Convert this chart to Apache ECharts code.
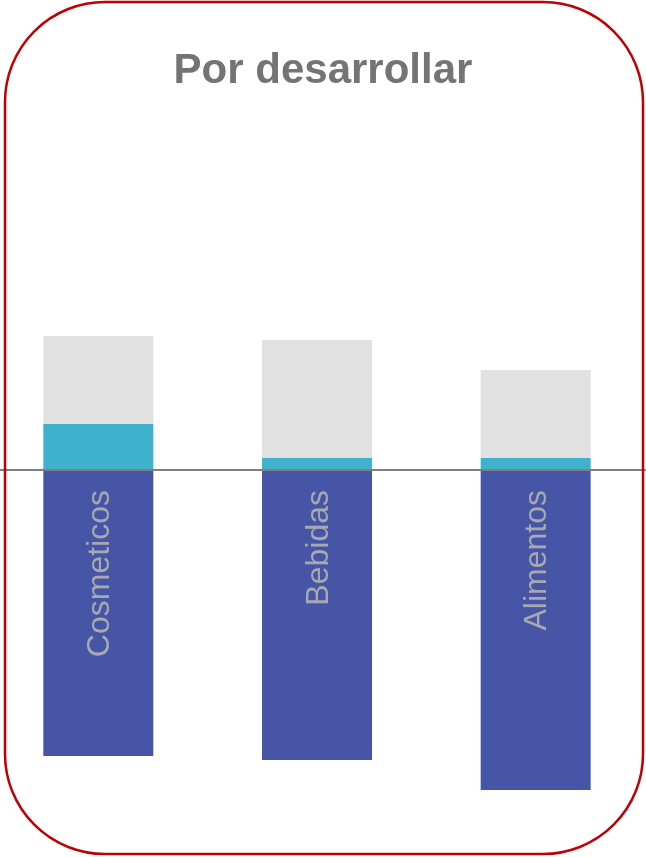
<!DOCTYPE html>
<html>
<head>
<meta charset="utf-8">
<script src="https://cdn.jsdelivr.net/npm/echarts@6/dist/echarts.min.js"></script>
<style>
  html, body { margin: 0; padding: 0; background: #ffffff; }
  #chart { width: 646px; height: 857px; }
</style>
</head>
<body>
<div id="chart"></div>
<script>
const categories = ['Cosmeticos', 'Bebidas', 'Alimentos'];
const darkValues = [-143, -145, -160];
const tealValues = [23, 6, 6];
const greyValues = [44, 59, 44];
const titleText = 'Por desarrollar';

const chart = echarts.init(document.getElementById('chart'), null, { renderer: 'canvas' });
chart.setOption({
  backgroundColor: '#ffffff',
  animation: false,
  title: {
    text: titleText,
    left: 'center',
    top: 45,
    textStyle: { fontFamily: 'Liberation Sans, Arial, sans-serif', fontSize: 42, fontWeight: 'bold', color: '#747474' }
  },
  graphic: [{
    type: 'rect',
    shape: { x: 5, y: 2, width: 638, height: 852, r: 100 },
    style: { fill: 'none', stroke: '#C00000', lineWidth: 2.5 },
    z: 100,
    silent: true
  }],
  grid: { left: -11, right: 1, top: 230, bottom: 27, containLabel: false, outerBoundsMode: 'none' },
  xAxis: {
    type: 'category',
    data: categories,
    z: 10,
    axisLine: { onZero: true, lineStyle: { color: '#7F7F7F', width: 2 } },
    axisTick: { show: false },
    axisLabel: { show: false },
    splitLine: { show: false }
  },
  yAxis: {
    type: 'value',
    min: -180,
    max: 120,
    show: false,
    splitLine: { show: false }
  },
  series: [
    { name: 'dark', type: 'bar', stack: 'total', data: darkValues, barWidth: 110,
      itemStyle: { color: '#4755A6' },
      label: {
        show: true,
        formatter: '{b}',
        position: [57, 20],
        rotate: 90,
        align: 'right',
        verticalAlign: 'middle',
        fontFamily: 'Liberation Sans, Arial, sans-serif',
        fontSize: 32,
        color: '#A8A8B0'
      } },
    { name: 'teal', type: 'bar', stack: 'total', data: tealValues, barWidth: 110,
      itemStyle: { color: '#3EB1CC' } },
    { name: 'grey', type: 'bar', stack: 'total', data: greyValues, barWidth: 110,
      itemStyle: { color: '#E1E1E1' } }
  ]
});
</script>
</body>
</html>
